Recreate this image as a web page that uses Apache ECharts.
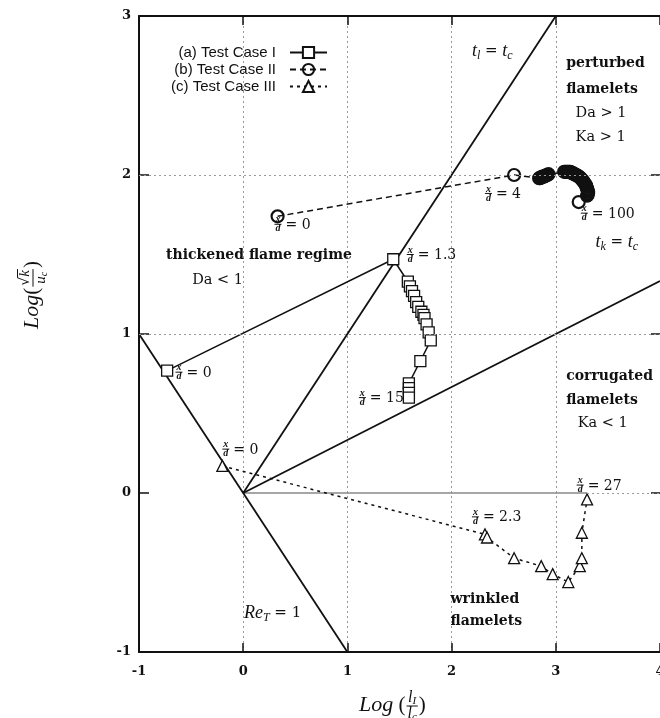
<!DOCTYPE html>
<html>
<head>
<meta charset="utf-8">
<script src="https://cdn.jsdelivr.net/npm/echarts@6/dist/echarts.min.js"></script>
<style>
  html, body { margin: 0; padding: 0; background: #fff; }
  #main { width: 660px; height: 718px; }
</style>
</head>
<body>
<div id="main"></div>
<script>
// ---- data (log-log regime diagram) ----
const seriesNames = ['(a) Test Case I', '(b) Test Case II', '(c) Test Case III']

const caseI = [
  [-0.73, 0.77], [1.44, 1.47],
  [1.58, 1.33], [1.60, 1.30], [1.62, 1.27], [1.64, 1.24], [1.66, 1.20], [1.68, 1.17],
  [1.71, 1.14], [1.73, 1.12], [1.74, 1.10], [1.76, 1.06], [1.78, 1.01], [1.80, 0.96],
  [1.70, 0.83], [1.59, 0.69], [1.59, 0.66], [1.59, 0.63], [1.59, 0.60]
]
const caseII = [
  [0.33, 1.74], [2.60, 2.00],
  [2.84, 1.98], [2.85, 1.98], [2.86, 1.985], [2.87, 1.99], [2.88, 1.99], [2.89, 1.99],
  [2.90, 1.995], [2.91, 2.00], [2.92, 2.00], [2.93, 2.005],
  [3.08, 2.02], [3.09, 2.02], [3.10, 2.02], [3.11, 2.02], [3.12, 2.02], [3.13, 2.02],
  [3.14, 2.02], [3.15, 2.015], [3.16, 2.01], [3.17, 2.01], [3.18, 2.005], [3.19, 2.00],
  [3.20, 2.00], [3.21, 1.995], [3.22, 1.99], [3.23, 1.985], [3.24, 1.98], [3.25, 1.97],
  [3.26, 1.965], [3.27, 1.955], [3.28, 1.945], [3.29, 1.935], [3.295, 1.925], [3.30, 1.915],
  [3.305, 1.905], [3.31, 1.895], [3.31, 1.885], [3.305, 1.875], [3.30, 1.87],
  [3.22, 1.83]
]
const caseIII = [
  [-0.20, 0.17], [2.32, -0.26], [2.34, -0.28], [2.60, -0.41], [2.86, -0.46],
  [2.97, -0.51], [3.12, -0.56], [3.23, -0.46], [3.25, -0.41], [3.25, -0.25], [3.30, -0.04]
]

// regime boundaries
const reLine = [[-1, 1], [1, -1]]      // Re_T = 1
const tlLine = [[0, 0], [3, 3]]        // t_l = t_c
const tkLine = [[0, 0], [4, 4 / 3]]    // t_k = t_c
const zeroLine = [[0, 0], [3.3, 0]]

// text notes [text, x, y]
const boldNotes = [
  ['perturbed', 3.10, 2.70], ['flamelets', 3.10, 2.54],
  ['thickened flame regime', -0.74, 1.495],
  ['corrugated', 3.10, 0.735], ['flamelets', 3.10, 0.584],
  ['wrinkled', 1.99, -0.672], ['flamelets', 1.99, -0.81]
]
const plainNotes = [
  ['Da > 1', 3.19, 2.39], ['Ka > 1', 3.19, 2.24],
  ['Da < 1', -0.49, 1.34], ['Ka < 1', 3.21, 0.44]
]
const xdNotes = [
  ['0', 0.30, 1.69], ['4', 2.32, 1.884], ['100', 3.24, 1.76],
  ['1.3', 1.57, 1.50], ['0', -0.65, 0.76], ['15', 1.11, 0.60],
  ['0', -0.20, 0.276], ['2.3', 2.195, -0.15], ['27', 3.20, 0.05]
]

const ink = '#111'
const gridGray = '#9a9a9a'
const SERIF = "'DejaVu Serif'"
const MATH = "'Liberation Serif'"

function bound(name, data) {
  return {
    name, type: 'line', data, symbol: 'none', silent: true, z: 2,
    lineStyle: { color: ink, width: 1.8 }
  }
}

function testCase(name, data, symbol, size, dash, fill, bw) {
  return {
    name, type: 'line', data, symbol, symbolSize: size, z: 4,
    lineStyle: { color: ink, width: 1.5, type: dash },
    itemStyle: { color: fill, borderColor: ink, borderWidth: bw },
    emphasis: { disabled: true }
  }
}

function frameAxis(extra) {
  return Object.assign({
    type: 'value', interval: 1,
    axisLine: { onZero: false, lineStyle: { color: ink, width: 2 } },
    axisTick: { inside: true, length: 9, lineStyle: { color: ink, width: 1.5 } },
    axisLabel: { show: false }, splitLine: { show: false }
  }, extra)
}

const tickFont = { fontFamily: SERIF, fontWeight: 'bold', fontSize: 13, color: ink }

const option = {
  animation: false,
  backgroundColor: '#fff',
  grid: { left: 139, top: 16, width: 521, height: 636, outerBoundsMode: 'none' },
  legend: {
    data: seriesNames,
    orient: 'vertical', align: 'right',
    right: 327, top: 40,
    itemWidth: 37, itemHeight: 14, itemGap: 2,
    textStyle: { fontFamily: 'Liberation Sans', fontSize: 15, color: ink, lineHeight: 14, padding: [0, 9, 0, 0] }
  },
  xAxis: [
    frameAxis({
      min: -1, max: 4, position: 'bottom',
      axisLabel: Object.assign({ show: true, margin: 13 }, tickFont),
      splitLine: { show: true, lineStyle: { color: gridGray, type: [2, 3], width: 1 } }
    }),
    frameAxis({ min: -1, max: 4, position: 'top' })
  ],
  yAxis: [
    frameAxis({
      min: -1, max: 3, position: 'left',
      axisTick: { inside: true, length: 10, lineStyle: { color: ink, width: 1.5 } },
      axisLabel: Object.assign({ show: true, margin: 8 }, tickFont)
    }),
    frameAxis({
      min: -1, max: 3, position: 'right',
      axisLine: { show: false, onZero: false },
      axisTick: { show: true, inside: true, length: 9, lineStyle: { color: ink, width: 1.5 } }
    })
  ],
  series: [
    {
      name: 'zero', type: 'line', data: zeroLine, symbol: 'none', silent: true, z: 1,
      lineStyle: { color: '#888', width: 1.6 },
      markLine: {
        silent: true, symbol: 'none', label: { show: false },
        lineStyle: { color: gridGray, type: [2, 3], width: 1 },
        data: [{ yAxis: 1 }, { yAxis: 2 }, [{ coord: [3.3, 0] }, { coord: [4, 0] }]]
      }
    },
    bound('Re', reLine),
    bound('tl', tlLine),
    bound('tk', tkLine),
    testCase(seriesNames[0], caseI, 'rect', 11, 'solid', '#fff', 1.3),
    testCase(seriesNames[1], caseII, 'circle', 12, [6, 4], 'rgba(255,255,255,0)', 2.2),
    testCase(seriesNames[2], caseIII, 'triangle', 11, [3, 4], '#fff', 1.3)
  ]
}

const chart = echarts.init(document.getElementById('main'))
chart.setOption(option)

// ---- text annotations (math labels built from pieces) ----
const mctx = document.createElement('canvas').getContext('2d')
function tw(t, f) { mctx.font = f; return mctx.measureText(t).width }

function txt(t, f, x, y, align) {
  return {
    type: 'text', x, y, silent: true,
    style: { text: t, font: f, fill: ink, align: align || 'left', verticalAlign: 'middle' }
  }
}

// parts: [text, font, dy]
function run(parts, x0) {
  let x = x0 || 0
  const els = []
  parts.forEach(([t, f, dy]) => {
    els.push(txt(t, f, x, dy || 0))
    x += tw(t, f)
  })
  return { els, width: x - (x0 || 0) }
}

function fraction(num, den, x0, up, down) {
  const n = run(num, 0), d = run(den, 0)
  const w = Math.max(n.width, d.width) + 2
  const els = []
  n.els.forEach(e => { e.x += x0 + (w - n.width) / 2; e.y -= up; els.push(e) })
  d.els.forEach(e => { e.x += x0 + (w - d.width) / 2; e.y += down; els.push(e) })
  els.push({ type: 'line', silent: true, shape: { x1: x0, y1: 0, x2: x0 + w, y2: 0 }, style: { stroke: ink, lineWidth: 1 } })
  return { els, width: w }
}

function at(x, y) { return chart.convertToPixel({ gridIndex: 0 }, [x, y]) }

const graphics = []
const boldFont = 'bold 14px ' + SERIF
const plainFont = '14.5px ' + SERIF
const eqFont = '14px ' + SERIF

boldNotes.forEach(([t, x, y]) => { const p = at(x, y); graphics.push(txt(t, boldFont, p[0], p[1])) })
plainNotes.forEach(([t, x, y]) => { const p = at(x, y); graphics.push(txt(t, plainFont, p[0], p[1])) })

// x/d = value
xdNotes.forEach(([v, x, y]) => {
  const p = at(x, y)
  const fr = fraction([['x', 'italic bold 10px ' + MATH]], [['d', 'italic bold 10px ' + MATH]], 0, 4.5, 4.5)
  const els = fr.els.concat([txt('= ' + v, eqFont, fr.width + 4, 1)])
  graphics.push({ type: 'group', x: p[0], y: p[1], silent: true, children: els })
})

// t_l = t_c, t_k = t_c, Re_T = 1
const mi = 'italic 18px ' + MATH
const ms = 'italic 12px ' + MATH
const mathNotes = [
  [[['t', mi], ['l', ms, 5], [' = ', '15px ' + SERIF], ['t', mi], ['c', ms, 5]], 2.195, 2.78],
  [[['t', mi], ['k', ms, 5], [' = ', '15px ' + SERIF], ['t', mi], ['c', ms, 5]], 3.38, 1.577],
  [[['Re', mi], ['T', ms, 5], [' = ', '15px ' + SERIF], ['1', '15px ' + SERIF]], 0.007, -0.754]
]
mathNotes.forEach(([parts, x, y]) => {
  const p = at(x, y)
  graphics.push({ type: 'group', x: p[0], y: p[1], silent: true, children: run(parts).els })
})

// x axis title: Log (l_I / l_c)
;(function () {
  const big = 'italic 22px ' + MATH
  const par = '21px ' + MATH
  const a = run([['Log', big, -1], [' (', par, -1]], 0)
  const fr = fraction([['l', 'italic 16px ' + MATH], ['I', 'italic 11px ' + MATH, 3]],
                      [['l', 'italic 16px ' + MATH], ['c', 'italic 11px ' + MATH, 3]], a.width + 1, 8, 8)
  const b = run([[')', par, -1]], a.width + fr.width + 2)
  graphics.push({ type: 'group', x: 359, y: 706, silent: true, children: a.els.concat(fr.els, b.els) })
})()

// y axis title: Log(sqrt(k) / u_c), rotated
;(function () {
  const big = 'italic 22px ' + MATH
  const par = '21px ' + MATH
  const a = run([['Log', big, -1], ['(', par, -1]], 0)
  const fr = fraction([['\u221A', '14px ' + SERIF, 0], ['k', 'italic 15px ' + MATH, 0]],
                      [['u', 'italic 15px ' + MATH], ['c', 'italic 10px ' + MATH, 3]], a.width + 1, 8, 8)
  // overline on k
  const kEl = fr.els[1]
  const kW = tw('k', 'italic 15px ' + MATH)
  fr.els.push({ type: 'line', silent: true, shape: { x1: kEl.x - 1, y1: -15.5, x2: kEl.x + kW + 1, y2: -15.5 }, style: { stroke: ink, lineWidth: 1 } })
  const b = run([[')', par, -1]], a.width + fr.width + 2)
  const total = a.width + fr.width + 2 + tw(')', par)
  const els = a.els.concat(fr.els, b.els)
  els.forEach(e => { if (e.type === 'line') { e.shape.x1 -= total / 2; e.shape.x2 -= total / 2 } else { e.x -= total / 2 } })
  graphics.push({ type: 'group', x: 33, y: 295, rotation: Math.PI / 2, silent: true, children: els })
})()

chart.setOption({ graphic: graphics })
</script>
</body>
</html>
